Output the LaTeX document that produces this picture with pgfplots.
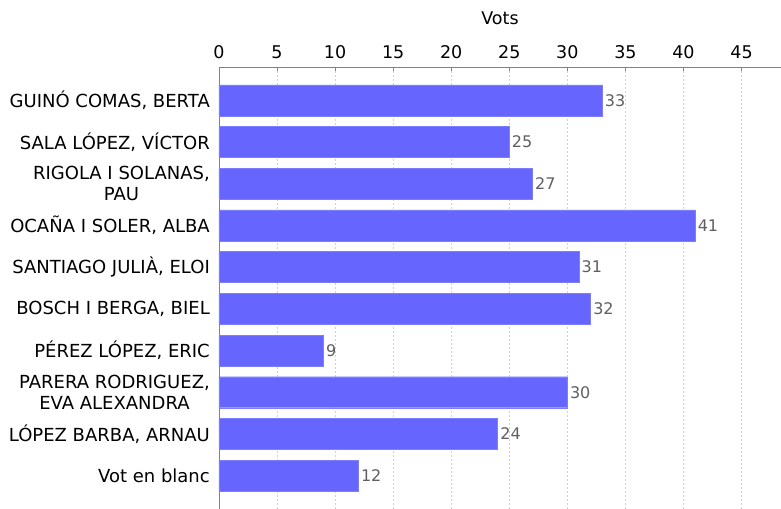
\documentclass[border=0pt]{standalone}
\usepackage{fontspec}
\setmainfont{DejaVu Sans}
\usepackage{pgfplots}
\pgfplotsset{compat=1.18}
\definecolor{barblue}{RGB}{102,102,255}
\definecolor{baredge}{RGB}{125,125,255}
\definecolor{gridgray}{RGB}{210,210,210}
\definecolor{axgray}{RGB}{130,130,130}
\definecolor{valgray}{RGB}{95,95,95}

\begin{document}
\begin{tikzpicture}[x=1bp,y=1bp]
\path[use as bounding box] (-219,0) rectangle (562,509);
\begin{axis}[
  at={(0,0)}, anchor=south west,
  scale only axis, width=562bp, height=442bp,
  xbar, bar width=31bp,
  xmin=0, xmax=48.4,
  ymin=-0.8, ymax=9.8,
  axis x line=top, axis y line=left,
  axis line style={axgray, -},
  xtick={0,5,...,45},
  ytick={0,...,9},
  yticklabels={Vot en blanc, {LÓPEZ BARBA, ARNAU}, {PARERA RODRIGUEZ,\\EVA ALEXANDRA},
    {PÉREZ LÓPEZ, ERIC}, {BOSCH I BERGA, BIEL}, {SANTIAGO JULIÀ, ELOI},
    {OCAÑA I SOLER, ALBA}, {RIGOLA I SOLANAS,\\PAU}, {SALA LÓPEZ, VÍCTOR},
    {GUINÓ COMAS, BERTA}},
  yticklabel style={align=center, font=\fontsize{18bp}{21bp}\selectfont, inner sep=0pt, xshift=-9bp},
  xticklabel style={font=\fontsize{17.5bp}{20bp}\selectfont, yshift=5bp},
  /pgf/number format/assume math mode=true,
  tick align=inside,
  major tick length=4bp,
  xtick style={axgray},
  ytick style={draw=none},
  xmajorgrids,
  grid style={gridgray, dash pattern=on 1.5bp off 2.5bp},
  xlabel={Vots},
  xlabel style={at={(axis description cs:0.5,1)}, anchor=center, yshift=49bp, font=\fontsize{17.5bp}{20bp}\selectfont},
  nodes near coords,
  nodes near coords style={valgray, anchor=west, inner sep=2.5bp, font=\fontsize{16bp}{19bp}\selectfont},
]
\addplot[fill=barblue, draw=baredge] coordinates {
  (33,9) (25,8) (27,7) (41,6) (31,5) (32,4) (9,3) (30,2) (24,1) (12,0)
};
\end{axis}
\end{tikzpicture}
\end{document}
